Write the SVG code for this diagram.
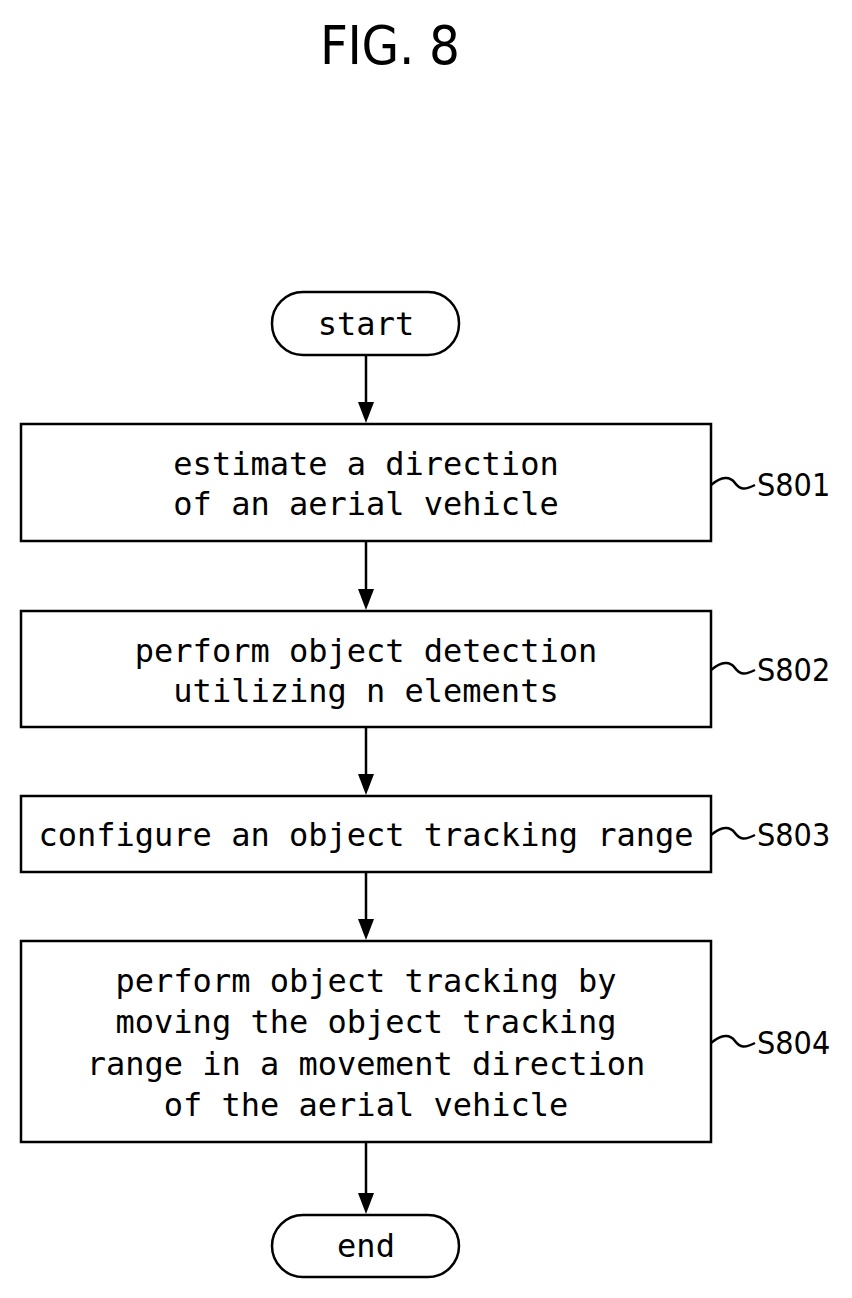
<svg xmlns="http://www.w3.org/2000/svg" width="852" height="1298" viewBox="0 0 852 1298">
<style>
.b{fill:#fff;stroke:#000;stroke-width:2.5}
.t{font-family:"DejaVu Sans Mono",monospace;font-size:32px;text-anchor:middle;dominant-baseline:central}
.l{font-family:"DejaVu Sans Condensed","Liberation Sans",sans-serif;font-size:32px;dominant-baseline:central}
.c{fill:none;stroke:#000;stroke-width:2.5}
</style>
<rect width="852" height="1298" fill="#fff"/>
<text x="390" y="45" font-family="DejaVu Sans Condensed,Liberation Sans,sans-serif" font-size="54" text-anchor="middle" dominant-baseline="central" textLength="140" lengthAdjust="spacing">FIG. 8</text>
<g id="start"><rect class="b" x="272" y="292" width="187" height="63" rx="31"/><text class="t" x="366" y="324">start</text></g>
<g id="s801"><rect class="b" x="21" y="424" width="690" height="117"/><text class="t" x="366" y="464">estimate a direction</text><text class="t" x="366" y="504">of an aerial vehicle</text><text class="l" x="757" y="485">S801</text></g>
<g id="s802"><rect class="b" x="21" y="611" width="690" height="116"/><text class="t" x="366" y="651">perform object detection</text><text class="t" x="366" y="691">utilizing n elements</text><text class="l" x="757" y="670">S802</text></g>
<g id="s803"><rect class="b" x="21" y="796" width="690" height="76"/><text class="t" x="366" y="835">configure an object tracking range</text><text class="l" x="757" y="835">S803</text></g>
<g id="s804"><rect class="b" x="21" y="941" width="690" height="201"/><text class="t" x="366" y="981">perform object tracking by</text><text class="t" x="366" y="1022">moving the object tracking</text><text class="t" x="366" y="1064">range in a movement direction</text><text class="t" x="366" y="1105">of the aerial vehicle</text><text class="l" x="757" y="1043">S804</text></g>
<g id="end"><rect class="b" x="272" y="1215" width="187" height="62" rx="31"/><text class="t" x="366" y="1246">end</text></g>
<g id="connectors">
<path class="c" d="M366,355V404" /><path d="M358,402L374,402L366,423Z"/>
<path class="c" d="M366,541V590" /><path d="M358,589L374,589L366,610Z"/>
<path class="c" d="M366,727V775" /><path d="M358,774L374,774L366,795Z"/>
<path class="c" d="M366,872V920" /><path d="M358,919L374,919L366,940Z"/>
<path class="c" d="M366,1142V1193" /><path d="M358,1193L374,1193L366,1214Z"/>
<path class="c" d="M711,485C722,476 730,476 735,483S745,490 755,485"/>
<path class="c" d="M711,670C722,661 730,661 735,668S745,675 755,670"/>
<path class="c" d="M711,835C722,826 730,826 735,833S745,840 755,835"/>
<path class="c" d="M711,1043C722,1034 730,1034 735,1041S745,1048 755,1043"/>
</g>
</svg>
